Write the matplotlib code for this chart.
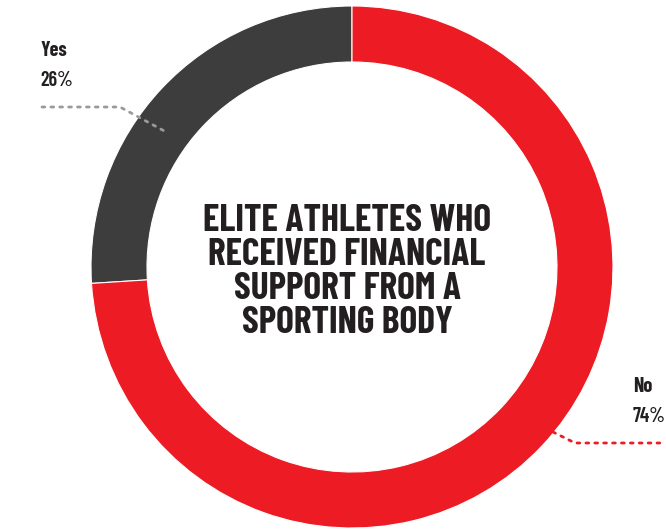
import matplotlib.pyplot as plt

labels = ['Yes', 'No']
shares = [26, 74]
colors = ['#3d3d3d', '#ed1c24']

W, H = 666, 530

fig = plt.figure(figsize=(6.66, 5.30), dpi=100)
ax = fig.add_axes([0, 0, 1, 1])
ax.axis('off')

# donut ring, Yes runs anticlockwise from 12 o'clock
ax.pie(shares, colors=colors, startangle=90, counterclock=True,
       center=(352, H - 267), radius=261,
       wedgeprops=dict(width=56, edgecolor='white', linewidth=0.8))
ax.set_xlim(0, W)
ax.set_ylim(0, H)
ax.set_aspect('equal')

font = ['Barlow Condensed', 'DejaVu Sans']
ink = '#231f20'

ax.text(347, H - 272, 'ELITE ATHLETES WHO\nRECEIVED FINANCIAL\nSUPPORT FROM A\nSPORTING BODY',
        ha='center', va='center', fontsize=27, fontweight='bold', family=font,
        color=ink, linespacing=1.01)

# Yes label and leader
ax.text(40, H - 51, labels[0], ha='left', va='center', fontsize=14.5,
        fontweight='bold', family=font, color=ink)
ax.text(40, H - 81, f'{shares[0]}%', ha='left', va='center', fontsize=14.5,
        fontweight=600, family=font, color=ink)
ax.plot([42, 120, 168], [H - 107, H - 107, H - 133], color='#9a9a9a',
        linestyle=(0, (1, 2.2)), linewidth=2, dash_capstyle='round')

# No label and leader
ax.text(633, H - 387, labels[1], ha='left', va='center', fontsize=14.5,
        fontweight='bold', family=font, color=ink)
ax.text(633, H - 416, f'{shares[1]}%', ha='left', va='center', fontsize=14.5,
        fontweight=600, family=font, color=ink)
ax.plot([545, 575, 660], [H - 428, H - 443, H - 443], color=colors[1],
        linestyle=(0, (1, 2.2)), linewidth=2, dash_capstyle='round')

fig.savefig('out.png', dpi=100)
